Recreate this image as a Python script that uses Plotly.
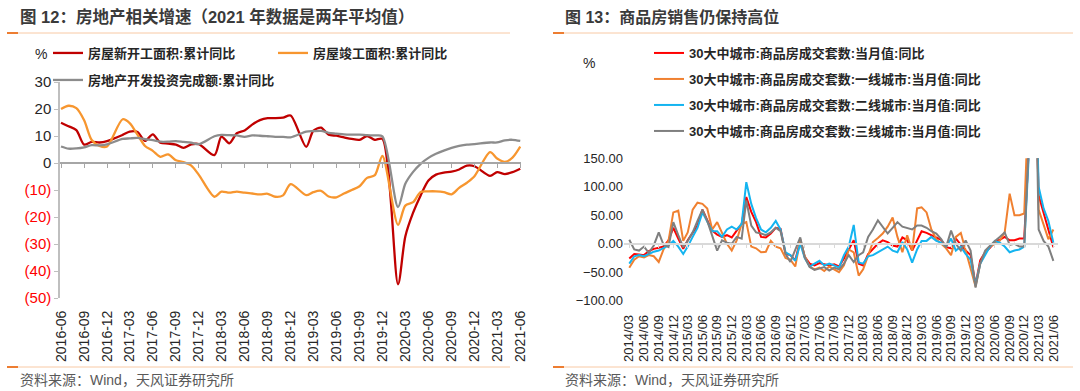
import plotly.graph_objects as go
import pandas as pd

W, H = 1080, 391

# ---------------- Left chart data (cumulative YoY, %) ----------------
left_months = [d for d in pd.date_range("2016-06-01", "2021-06-01", freq="MS") if d.month != 1]
left_dates = [d.strftime("%Y-%m-%d") for d in left_months]

new_start = [14.9, 13.6, 12.2, 6.8, 7.8, 7.6, 8.1,
             10.4, 11.6, 11.5, 8.2, 10.6, 7.5, 7.2, 6.8, 5.6, 6.9, 7.0,
             2.9, 9.8, 7.3, 11.0, 12.0, 14.2, 15.9, 16.6, 16.6, 16.8, 17.6,
             6.0, 11.9, 13.1, 10.5, 10.1, 9.5, 8.9, 8.6, 10.0, 8.6, 8.9,
             -44.9, -27.2, -18.4, -12.0, -6.5, -4.3, -3.6, -3.2, -2.4, -1.0, -1.2,
             -4.8, -3.4, -4.1, -3.4, -2.1]
completion = [20.0, 21.2, 20.3, 15.8, 8.5, 6.3, 6.1,
              16.2, 14.8, 10.5, 6.3, 4.5, 2.3, 3.2, 1.0, 0.3, -1.0, -4.4,
              -12.5, -10.6, -11.0, -10.6, -11.0, -11.3, -11.6, -11.4, -12.5, -12.0, -7.8,
              -11.9, -10.8, -10.3, -12.4, -12.7, -11.3, -10.0, -8.6, -5.5, -4.5, 2.6,
              -22.9, -15.8, -14.5, -10.7, -10.5, -10.5, -10.8, -11.6, -9.2, -7.3, -4.9,
              4.0, 1.7, 0.4, 2.0, 6.1]
investment = [6.1, 5.3, 5.4, 5.8, 6.6, 6.5, 6.9,
              8.9, 9.1, 9.3, 8.8, 8.5, 7.9, 7.9, 8.1, 7.8, 7.5, 7.0,
              9.9, 10.4, 10.3, 10.2, 9.7, 10.2, 10.1, 9.9, 9.7, 9.7, 9.5,
              11.6, 11.8, 11.9, 11.2, 10.9, 10.6, 10.5, 10.5, 10.3, 10.2, 9.9,
              -16.3, -7.7, -3.3, -0.3, 1.9, 3.4, 4.6, 5.6, 6.3, 6.8, 7.0,
              7.6, 7.6, 8.4, 8.6, 8.2]
left_names = ["房屋新开工面积:累计同比", "房屋竣工面积:累计同比", "房地产开发投资完成额:累计同比"]
left_ticks = [30, 20, 10, 0, -10, -20, -30, -40, -50]

# ---------------- Right chart data (monthly YoY, %) ----------------
right_dates = [d.strftime("%Y-%m-%d") for d in pd.date_range("2014-03-01", "2021-06-01", freq="MS")]

city_total = [-26, -18, -19, -20, -13, -9, -7, -5, 6, 28,
              9, -9, 6, 20, 32, 60, 41, 23, 16, 12,
              15, 11, 23, 35, 82, 56, 38, 12, 11, 18,
              28, 26, -18, -20, -29, 6, -23, -35, -38, -34,
              -36, -38, -36, -40, -26, -9, 6, -35, -38, -18,
              -9, 0, 6, 3, -3, -5, 11, 6, -12, 6,
              22, 19, 15, 12, 7, -6, -8, 9, -2, -12,
              -20, -72, -29, -15, -7, 3, 7, 12, 6, 6,
              9, 9, 180, 400, 85, 53, 23, -6]
tier1 = [-42, -28, -22, -24, -20, -22, -32, -10, 5, 55,
         58, 5, 20, 60, 72, 70, 62, 25, 38, 20,
         0, -12, 6, 35, 38, -5, -8, -15, -14, 5,
         -5, -8, -25, -28, -40, 8, -22, -40, -45, -42,
         -48, -40, -45, -50, -38, -10, -15, -56, -45, -20,
         3, 10, 18, 30, 46, 12, -15, 15, -12, 62,
         64, 55, 25, 8, 0, -8, -20, 12, 19, -12,
         -40, -75, -35, -15, -5, 0, 5, 20, 88, 50,
         50, 53, 200, 500, 60, 35, 8, 25]
tier2 = [-35, -22, -20, -22, -18, -14, -12, -8, -3, 5,
         -5, -18, -5, 12, 28, 55, 38, 22, 22, 12,
         25, 30, 25, 35, 108, 70, 45, 25, 20, 28,
         40, 25, -15, -20, -30, 0, -25, -40, -35, -30,
         -38, -35, -38, -42, -20, -5, 33, -33, -35, -22,
         -20, -15, -10, -5, -12, -15, 3, -10, -33, -10,
         5, 5, 12, 5, 2, -5, 9, -12, -5, -18,
         -28, -72, -35, -20, -5, 5, 2, -5, -15, -12,
         -10, -5, 170, 400, 100, 62, 40, 2]
tier3 = [7, -10, -12, -5, -16, -3, 20, -2, -6, 38,
         15, -6, 5, 20, 40, 60, 40, 15, -12, 6,
         2, 0, 12, 9, 76, 32, 20, 18, 15, 20,
         28, 22, -18, -32, -10, 11, -24, -41, -46, -44,
         -41, -47, -42, -45, -35, -20, -32, -20, -15, 12,
         25, 41, 30, 18, 28, 38, 30, 28, 25, 32,
         32, 28, 22, 18, 8, -6, 23, 0, -12, 6,
         -12, -77, -35, -12, -3, 5, 12, 20, -2, 0,
         -5, -5, 190, 450, 25, 5, -5, -30]
right_names = ["30大中城市:商品房成交套数:当月值:同比",
               "30大中城市:商品房成交套数:一线城市:当月值:同比",
               "30大中城市:商品房成交套数:二线城市:当月值:同比",
               "30大中城市:商品房成交套数:三线城市:当月值:同比"]

FONT = "Liberation Sans, Arial, Noto Sans CJK SC, sans-serif"
TXT = "#262626"


def px(p):
    return p / W


def py(p):
    return 1 - p / H


fig = go.Figure()

# ----- left traces -----
left_colors = ["#C00000", "#F7962F", "#8C8C8C"]
left_legends = ["legend", "legend2", "legend3"]
for vals, name, col, lg in zip([new_start, completion, investment], left_names, left_colors, left_legends):
    fig.add_trace(go.Scatter(x=left_dates, y=vals, name="<b>" + name + "</b>", mode="lines",
                             line=dict(color=col, width=2.3, shape="spline", smoothing=0.8),
                             xaxis="x", yaxis="y", legend=lg))
# helper trace so the zero-line axis is drawn
fig.add_trace(go.Scatter(x=left_dates, y=investment, mode="lines", opacity=0, showlegend=False,
                         hoverinfo="skip", xaxis="x3", yaxis="y"))

# ----- right traces -----
right_colors = ["#FF0000", "#F08030", "#14B4F0", "#7F7F7F"]
right_legends = ["legend4", "legend5", "legend6", "legend7"]
for vals, name, col, lg in zip([city_total, tier1, tier2, tier3], right_names, right_colors, right_legends):
    fig.add_trace(go.Scatter(x=right_dates, y=vals, name="<b>" + name + "</b>", mode="lines",
                             line=dict(color=col, width=2),
                             xaxis="x2", yaxis="y2", legend=lg))
fig.add_trace(go.Scatter(x=right_dates, y=city_total, mode="lines", opacity=0, showlegend=False,
                         hoverinfo="skip", xaxis="x4", yaxis="y2"))

# ----- axes geometry -----
ly0, ly1 = py(298), py(82)
ry0, ry1 = py(300.7), py(158.3)
left_range = ["2016-05-28", "2021-06-04"]
right_range = ["2014-01-27", "2021-06-30"]

ticktext_left = [str(v) if v >= 0 else '<span style="color:#FF0000">(%d)</span>' % (-v) for v in left_ticks]

fig.update_layout(
    width=W, height=H, margin=dict(l=0, r=0, t=0, b=0, autoexpand=False),
    paper_bgcolor="white", plot_bgcolor="rgba(0,0,0,0)",
    font=dict(family=FONT, color=TXT),
    hovermode=False,
    xaxis=dict(domain=[px(60), px(521)], anchor="y", type="date", range=left_range,
               tick0="2016-06-01", dtick="M3", tickformat="%Y-%m", tickangle=-90,
               ticks="outside", ticklen=6, tickcolor="rgba(0,0,0,0)", automargin=False,
               tickfont=dict(size=14, color=TXT), showgrid=False, showline=False, zeroline=False),
    xaxis3=dict(overlaying="x", anchor="free", position=ly0 + (0 - (-50)) / 80 * (ly1 - ly0),
                type="date", range=left_range, tick0="2016-06-01", dtick="M3", automargin=False,
                showticklabels=False, ticks="outside", ticklen=4, tickcolor="#A6A6A6",
                showline=True, linecolor="#A6A6A6", linewidth=1.5, showgrid=False, zeroline=False),
    yaxis=dict(domain=[ly0, ly1], anchor="x", range=[-50, 30], tickmode="array",
               tickvals=left_ticks, ticktext=ticktext_left, automargin=False,
               tickfont=dict(size=15, color=TXT), ticks="outside", ticklen=4, tickcolor="#BFBFBF",
               showline=True, linecolor="#BFBFBF", linewidth=1.5, showgrid=False, zeroline=False),
    xaxis2=dict(domain=[px(624), px(1058)], anchor="y2", type="date", range=right_range,
                tick0="2014-03-01", dtick="M3", tickformat="%Y/%m", tickangle=-90,
                ticks="outside", ticklen=8, tickcolor="rgba(0,0,0,0)", automargin=False,
                tickfont=dict(size=13, color=TXT), showgrid=False, showline=False, zeroline=False),
    xaxis4=dict(overlaying="x2", anchor="free", position=ry0 + 100 / 250 * (ry1 - ry0),
                type="date", range=right_range, tick0="2014-03-01", dtick="M3", automargin=False,
                showticklabels=False, ticks="outside", ticklen=4, tickcolor="#D9D9D9",
                showline=True, linecolor="#D9D9D9", linewidth=1.5, showgrid=False, zeroline=False),
    yaxis2=dict(domain=[ry0, ry1], anchor="x2", range=[-100, 150], dtick=50, tick0=0,
                tickformat=".2f", tickfont=dict(size=13, color=TXT), ticks="", automargin=False,
                showline=False, showgrid=False, zeroline=False),
)

leg_common = dict(xanchor="left", yanchor="middle", bgcolor="rgba(0,0,0,0)",
                  font=dict(size=13, color=TXT, family=FONT), orientation="h")
fig.update_layout(
    legend=dict(x=px(48), y=py(53), **leg_common),
    legend2=dict(x=px(273), y=py(53), **leg_common),
    legend3=dict(x=px(48), y=py(80), **leg_common),
    legend4=dict(x=px(649), y=py(53), **leg_common),
    legend5=dict(x=px(649), y=py(79), **leg_common),
    legend6=dict(x=px(649), y=py(105), **leg_common),
    legend7=dict(x=px(649), y=py(131), **leg_common),
)

annotations = [
    dict(text="<b>图 12：房地产相关增速（2021 年数据是两年平均值）</b>", x=px(18), y=py(17),
         font=dict(size=16.5, color="#3A3A3A")),
    dict(text="<b>图 13：商品房销售仍保持高位</b>", x=px(563), y=py(17),
         font=dict(size=16, color="#3A3A3A")),
    dict(text="资料来源：Wind，天风证券研究所", x=px(18), y=py(380),
         font=dict(size=14, color="#595959")),
    dict(text="资料来源：Wind，天风证券研究所", x=px(563), y=py(380),
         font=dict(size=14, color="#595959")),
    dict(text="%", x=px(33), y=py(54), font=dict(size=14, color=TXT)),
    dict(text="%", x=px(581), y=py(63), font=dict(size=14, color=TXT)),
]
for a in annotations:
    a.update(xref="paper", yref="paper", xanchor="left", yanchor="middle", showarrow=False)
fig.update_layout(annotations=annotations)

shapes = []
for x0, x1 in [(7, 510), (553, 1073)]:
    for yy in (33, 367):
        shapes.append(dict(type="line", xref="paper", yref="paper", x0=px(x0), x1=px(x1),
                           y0=py(yy), y1=py(yy), line=dict(color="#F8C9A4", width=1)))
        shapes.append(dict(type="line", xref="paper", yref="paper", x0=px(x0), x1=px(x0 + 11),
                           y0=py(yy), y1=py(yy), line=dict(color="#ED7D31", width=2)))
fig.update_layout(shapes=shapes)

fig.write_html("out.html", config={"displayModeBar": False},
               post_script="document.body.style.margin='0px';document.body.style.overflow='hidden';")
